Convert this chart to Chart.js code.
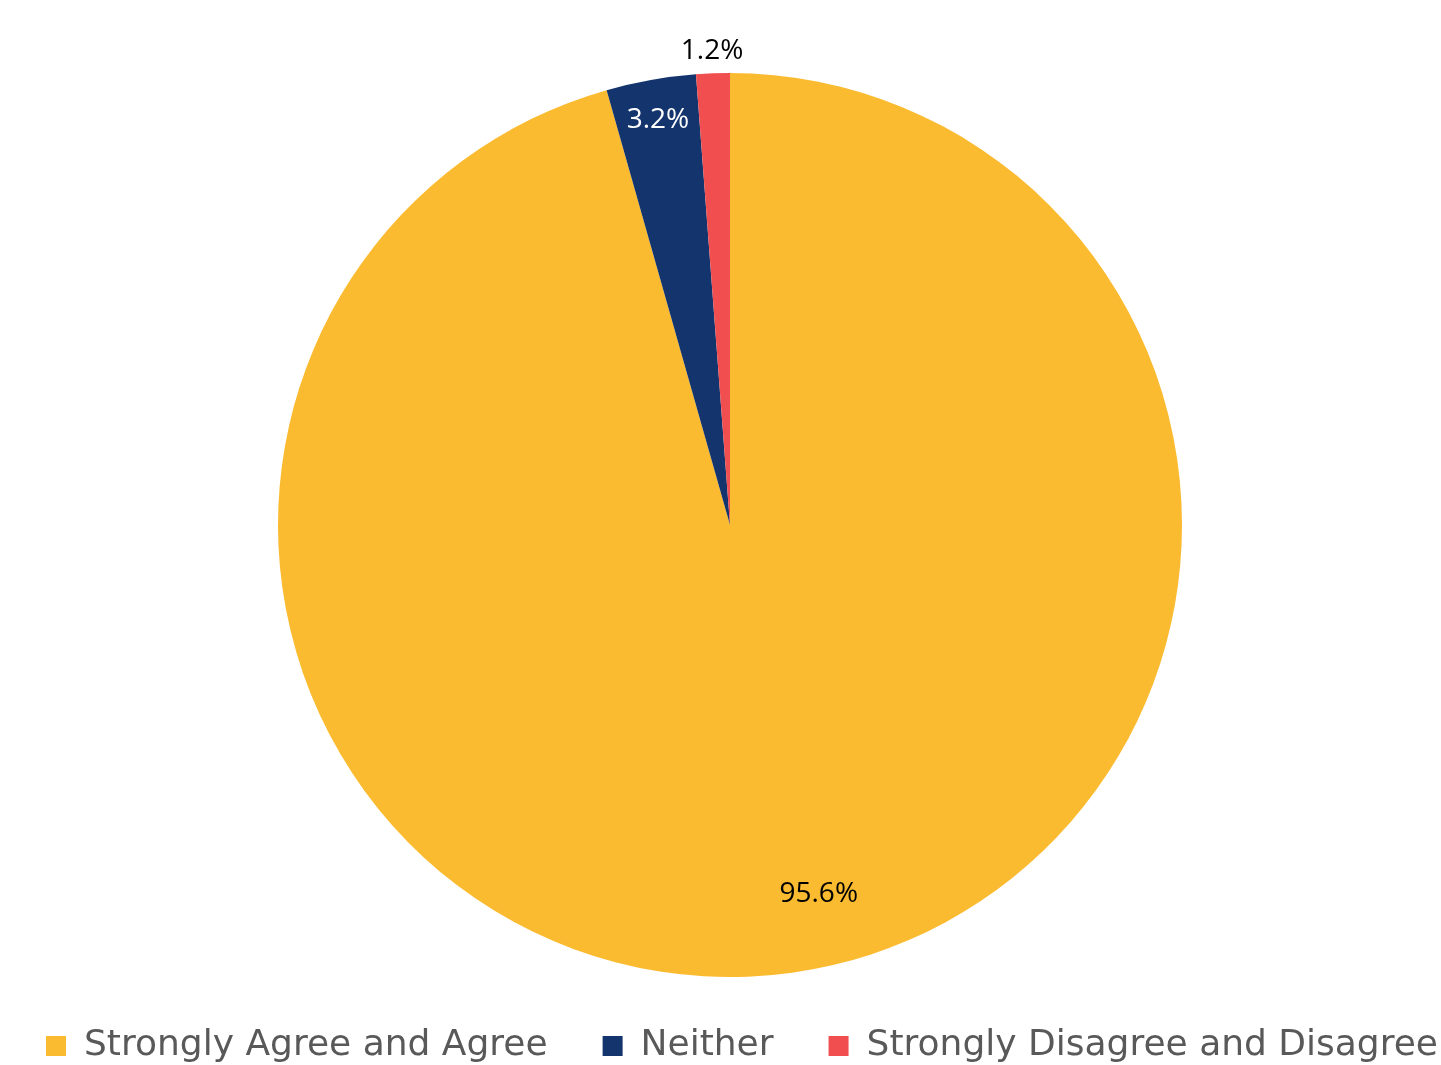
<!DOCTYPE html>
<html>
<head>
<meta charset="utf-8">
<script src="https://cdn.jsdelivr.net/npm/chart.js@4/dist/chart.umd.min.js"></script>
<style>
  html, body { margin: 0; padding: 0; background: #ffffff; overflow: hidden; width: 1441px; height: 1065px; }
  #wrap { position: absolute; left: -70px; top: 0; width: 1600px; height: 1074px; }
</style>
</head>
<body>
<div id="wrap"><canvas id="c"></canvas></div>
<script>
const categories = ['Strongly Agree and Agree', 'Neither', 'Strongly Disagree and Disagree'];
const values = [95.6, 3.2, 1.2];
const sliceColors = ['#FBBB30', '#14346D', '#F04E4F'];
const labelColors = ['#000000', '#ffffff', '#000000'];
const labelRadiusFrac = [0.84, 0.91, 1.05];
const labelAngleShiftDeg = [-5.6, 0, 0];

const dataLabels = {
  id: 'dataLabels',
  afterDatasetsDraw(chart) {
    const ctx = chart.ctx;
    const meta = chart.getDatasetMeta(0);
    ctx.save();
    ctx.font = '28px "Open Sans", "Noto Sans", sans-serif';
    ctx.textAlign = 'center';
    ctx.textBaseline = 'middle';
    meta.data.forEach((arc, i) => {
      const p = arc.getProps(['x', 'y', 'startAngle', 'endAngle', 'outerRadius'], true);
      const mid = (p.startAngle + p.endAngle) / 2 + labelAngleShiftDeg[i] * Math.PI / 180;
      const r = p.outerRadius * labelRadiusFrac[i];
      ctx.fillStyle = labelColors[i];
      ctx.fillText(values[i].toFixed(1) + '%', p.x + Math.cos(mid) * r, p.y + Math.sin(mid) * r);
    });
    ctx.restore();
  }
};

// nudge the legend row slightly to the right of the pie centre, as in the reference
const legendNudge = {
  id: 'legendNudge',
  afterLayout(chart) {
    if (chart.legend) {
      chart.legend.left += 12;
      chart.legend.right += 12;
    }
  }
};

new Chart(document.getElementById('c'), {
  type: 'pie',
  data: {
    labels: categories,
    datasets: [{
      data: values,
      backgroundColor: sliceColors,
      borderWidth: 0,
      radius: 452
    }]
  },
  options: {
    responsive: true,
    maintainAspectRatio: false,
    animation: false,
    layout: { padding: { top: 77, bottom: 0, left: 0, right: 0 } },
    plugins: {
      tooltip: { enabled: false },
      legend: {
        position: 'bottom',
        labels: {
          boxWidth: 20,
          boxHeight: 20,
          padding: 55,
          color: '#595959',
          font: { family: '"DejaVu Sans", sans-serif', size: 36 }
        }
      }
    }
  },
  plugins: [dataLabels, legendNudge]
});
</script>
</body>
</html>
